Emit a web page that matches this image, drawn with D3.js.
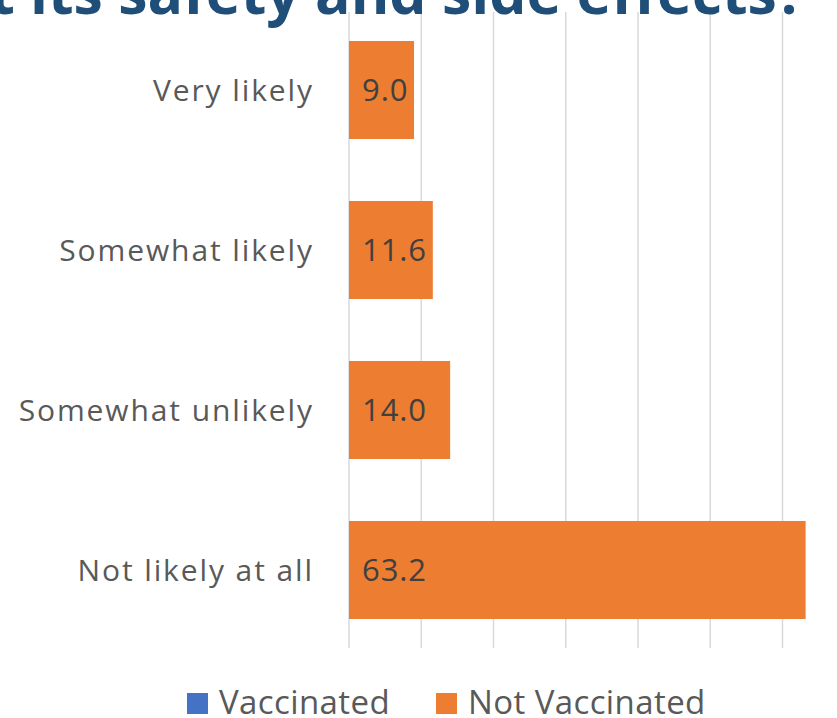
<!DOCTYPE html>
<html><head><meta charset="utf-8">
<script src="https://cdn.jsdelivr.net/npm/d3@7"></script>
<style>body{margin:0;background:#fff;} svg{display:block;}</style>
</head><body>
<svg id="chart" width="837" height="718"></svg>
<script>
const titleHidden = "abou";
const titleVisible = "t its safety and side effects?";
const categories = ["Very likely", "Somewhat likely", "Somewhat unlikely", "Not likely at all"];
const seriesNames = ["Vaccinated", "Not Vaccinated"];
const vaccinated = [null, null, null, null];
const notVaccinated = [9.0, 11.6, 14.0, 63.2];
const xTicks = [0, 10, 20, 30, 40, 50, 60, 70];
const colors = ["#4472C4", "#ED7D31"];

const svg = d3.select("#chart");
const font = "'Open Sans', sans-serif";

const x = d3.scaleLinear().domain([0, 70]).range([349, 854.75]);
const y = d3.scaleBand().domain(categories).range([10, 650]).paddingInner(0.3875).paddingOuter(0.19375);

// gridlines
svg.append("g").selectAll("line").data(xTicks).join("line")
  .attr("x1", d => x(d)).attr("x2", d => x(d))
  .attr("y1", 12).attr("y2", 648)
  .attr("stroke", "#d9d9d9").attr("stroke-width", 1.5);

// title (fit so that "its safety and side effects?" spans ~775px ending at 805)
const probe = svg.append("text").text("its safety and side effects?")
  .attr("font-family", font).attr("font-weight", 700).attr("font-size", 50);
const w50 = probe.node().getComputedTextLength();
probe.remove();
const titleSize = 50 * 775 / w50;
svg.append("text").text(titleHidden + titleVisible)
  .attr("font-family", font).attr("font-weight", 700)
  .attr("fill", "#1F4E79").attr("text-anchor", "end")
  .attr("x", 805).attr("y", 14).attr("font-size", titleSize);

// bars
const data = categories.map((c, i) => ({c, v: vaccinated[i], n: notVaccinated[i]}));
svg.append("g").selectAll("rect.v").data(data.filter(d => d.v != null)).join("rect")
  .attr("x", x(0)).attr("y", d => y(d.c)).attr("width", d => x(d.v) - x(0))
  .attr("height", y.bandwidth()).attr("fill", colors[0]);
svg.append("g").selectAll("rect.n").data(data).join("rect")
  .attr("x", x(0)).attr("y", d => y(d.c)).attr("width", d => x(d.n) - x(0))
  .attr("height", y.bandwidth()).attr("fill", colors[1]);

// value labels
svg.append("g").selectAll("text").data(data).join("text")
  .attr("x", x(0) + 13).attr("y", d => y(d.c) + y.bandwidth() / 2 + 11)
  .attr("font-family", font).attr("font-size", 31).attr("letter-spacing", 0.9).attr("fill", "#404040")
  .text(d => d.n.toFixed(1));

// category labels
const yAxis = d3.axisLeft(y).tickSize(0).tickPadding(0);
const ga = svg.append("g").attr("transform", `translate(${x(0) - 35},0)`).call(yAxis);
ga.select(".domain").remove();
ga.selectAll("text").attr("font-family", font).attr("font-size", 30).attr("letter-spacing", 1.9)
  .attr("fill", "#595959").attr("dy", "0.35em");

// legend
const lg = svg.append("g");
const legendX = [187, 436];
seriesNames.forEach((s, i) => {
  lg.append("rect").attr("x", legendX[i]).attr("y", 693).attr("width", 21).attr("height", 21).attr("fill", colors[i]);
  lg.append("text").attr("x", legendX[i] + 32).attr("y", 714).text(s)
    .attr("font-family", font).attr("font-size", 33).attr("letter-spacing", 0.4).attr("fill", "#595959");
});
</script>
</body></html>
